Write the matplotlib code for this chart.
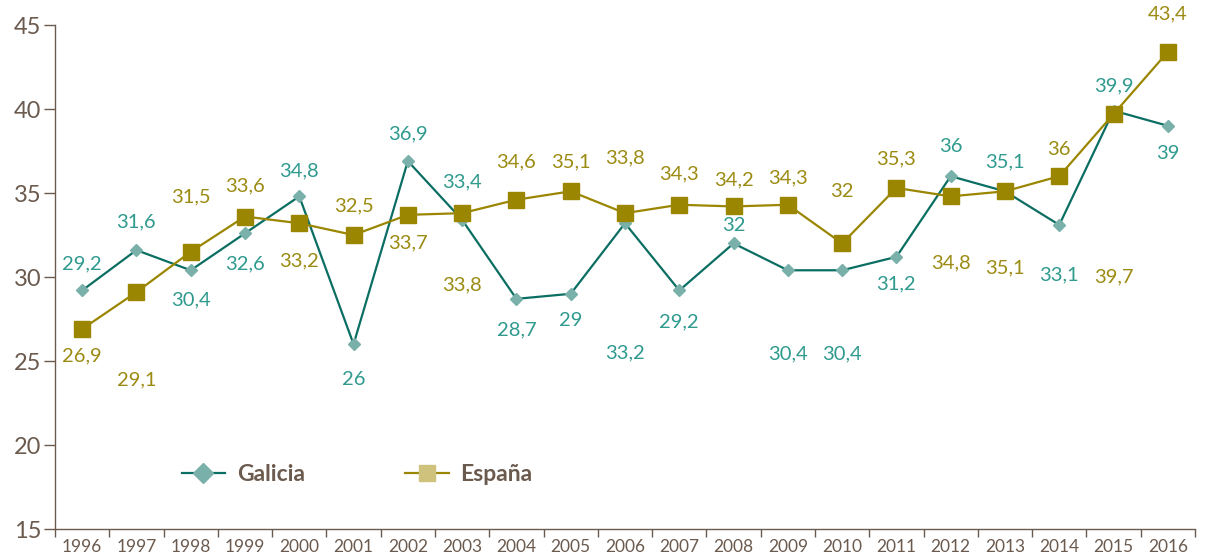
import matplotlib.pyplot as plt
from matplotlib.lines import Line2D
from matplotlib.ticker import FixedLocator

plt.rcParams['font.family'] = ['Lato', 'DejaVu Sans']

years = [str(y) for y in range(1996, 2017)]
galicia = [29.2, 31.6, 30.4, 32.6, 34.8, 26, 36.9, 33.4, 28.7, 29, 33.2,
           29.2, 32, 30.4, 30.4, 31.2, 36, 35.1, 33.1, 39.9, 39]
espana = [26.9, 29.1, 31.5, 33.6, 33.2, 32.5, 33.7, 33.8, 34.6, 35.1, 33.8,
          34.3, 34.2, 34.3, 32, 35.3, 34.8, 35.1, 36, 39.7, 43.4]

# vertical label offsets in pixels (negative = above the marker)
gal_off = [-27, -28, 30, 31, -25, 35, -27, -38, 31, 27, 130,
           31, -18, 84, 84, 27, -30, -29, 50, -25, 28]
esp_off = [27, 88, -55, -31, 38, -29, 28, 72, -38, -29, -55,
           -31, -27, -27, -52, -29, 67, 77, -27, 163, -38]

teal_line = '#0b6e63'
teal_mark = '#79b0a9'
teal_text = '#2f9a8e'
olive = '#9a8600'
olive_text = '#9c8b12'
olive_light = '#cfc27c'
brown = '#6b5a4e'

fig = plt.figure(figsize=(12.07, 5.57), dpi=100)
ax = fig.add_axes([55 / 1207, 28 / 557, 1140 / 1207, 504 / 557])

x = list(range(len(years)))
ax.plot(x, galicia, color=teal_line, lw=1.6, marker='D', markersize=6.5,
        markerfacecolor=teal_mark, markeredgecolor=teal_mark, zorder=2)
ax.plot(x, espana, color=olive, lw=1.6, marker='s', markersize=11,
        markerfacecolor=olive, markeredgecolor=olive, zorder=3)

for i in x:
    ax.annotate(str(galicia[i]).replace('.', ','), (i, galicia[i]),
                xytext=(0, -gal_off[i] * 0.72), textcoords='offset points',
                ha='center', va='center', fontsize=14.5, color=teal_text)
    ax.annotate(str(espana[i]).replace('.', ','), (i, espana[i]),
                xytext=(0, -esp_off[i] * 0.72), textcoords='offset points',
                ha='center', va='center', fontsize=14.5, color=olive_text)

ax.set_xlim(-0.5, len(years) - 0.5)
ax.set_ylim(15, 45)
ax.set_yticks(range(15, 50, 5))
ax.set_xticks(x)
ax.set_xticklabels(years)
ax.xaxis.set_minor_locator(FixedLocator([i - 0.5 for i in range(len(years) + 1)]))
ax.tick_params(axis='x', which='major', length=0, labelsize=12.5,
               labelcolor=brown, pad=7)
ax.tick_params(axis='x', which='minor', length=6, color=brown, width=1)
ax.tick_params(axis='y', length=8, color=brown, width=1, labelsize=17,
               labelcolor=brown, pad=2)
for side in ['top', 'right']:
    ax.spines[side].set_visible(False)
for side in ['left', 'bottom']:
    ax.spines[side].set_color(brown)
    ax.spines[side].set_linewidth(1)

handles = [
    Line2D([], [], color=teal_line, lw=1.6, marker='D', markersize=10,
           markerfacecolor=teal_mark, markeredgecolor=teal_mark),
    Line2D([], [], color=olive, lw=1.6, marker='s', markersize=11,
           markerfacecolor=olive_light, markeredgecolor=olive_light),
]
leg = ax.legend(handles, ['Galicia', 'España'], loc='center left',
                bbox_to_anchor=(0.093, 0.108), ncol=2, frameon=False,
                columnspacing=4.4, handlelength=1.9, handletextpad=0.5,
                prop={'weight': 'bold', 'size': 16.5})
for t in leg.get_texts():
    t.set_color(brown)

fig.savefig('out.png', dpi=100)
